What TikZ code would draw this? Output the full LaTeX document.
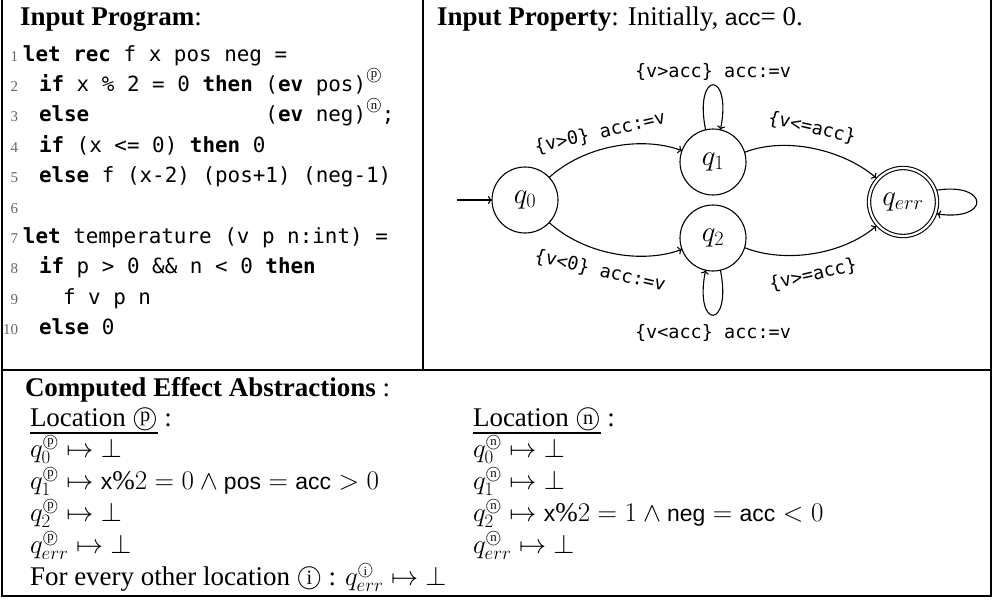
\RequirePackage{fix-cm}
\documentclass[tikz,border=0pt]{standalone}
\usepackage{fontspec}
\usepackage{graphicx}
\setmainfont{Liberation Serif}
\setsansfont{Liberation Sans}[Scale=0.85]
\setmonofont{DejaVu Sans Mono}
\usetikzlibrary{arrows.meta}
\newcommand\circl[1]{{\ooalign{$\vcenter{\hbox{\scalebox{0.92}{$\bigcirc$}}}$\cr\hfil$\vcenter{\hbox{\scalebox{0.75}{#1}}}$\hfil\cr}}}
\newcommand\csupm[1]{\hbox{\fontsize{17}{17}\selectfont\circl{#1}}}
\newcommand\csupc[1]{\raisebox{0.55em}{\fontsize{17}{17}\selectfont\rmfamily\mdseries\circl{#1}}}
\newcommand\codefont{\fontsize{20.9}{22}\selectfont\ttfamily}
\newcommand\lblfont{\fontsize{18.5}{20}\selectfont\ttfamily}
\newcommand\bodyfont{\fontsize{27}{30}\selectfont\rmfamily}
\newcommand\lnfont{\fontsize{15}{17}\selectfont\rmfamily}
\newcommand\statefont{\fontsize{29}{31}\selectfont}
\begin{document}
\begin{tikzpicture}[x=1pt,y=-1pt,
  every node/.style={inner sep=0pt, outer sep=0pt},
  code/.style={anchor=base west, font=\codefont},
  lnum/.style={anchor=base east, font=\lnfont, text=black!60},
  txt/.style={anchor=base west, font=\bodyfont},
  lbl/.style={font=\lblfont},
  stnode/.style={circle, draw, line width=1.1pt, minimum size=66pt, font=\statefont},
  edge/.style={line width=1.1pt, -{To[length=4pt,width=8pt]}},
  frame/.style={line width=2.7pt}]
\useasboundingbox (0,0) rectangle (995,600);
% frame
\draw[frame] (2,0) -- (2,596) -- (991,596) -- (991,0);
\draw[frame] (423,0) -- (423,370);
\draw[frame] (2,370) -- (991,370);
% left title
\node[txt] (tl) at (20,25) {\textbf{Input Program}:};
% code
\foreach \i in {1,...,10} {\node[lnum] (n\i) at (18,{61+30.4*(\i-1)}) {\i};}
\node[code] (c1) at (23,61) {\textbf{let rec} f x pos neg =};
\node[code] (c2) at (39,91.4) {\textbf{if} x \% 2 = 0 \textbf{then}};
\node[code] (c2b) at ([xshift=12.58pt]c2.base east) {(\textbf{ev} pos)\csupc{p}};
\node[code] (c3) at (39,121.8) {\textbf{else}};
\node[code] (c3b) at (c2b.base west |- c3.base) {(\textbf{ev} neg)\csupc{n};};
\node[code] (c4) at (39,152.2) {\textbf{if} (x <= 0) \textbf{then} 0};
\node[code] (c5) at (39,182.6) {\textbf{else} f (x-2) (pos+1) (neg-1)};
\node[code] (c7) at (23,243.4) {\textbf{let} temperature (v p n:int) =};
\node[code] (c8) at (39,273.8) {\textbf{if} p > 0 \&\& n < 0 \textbf{then}};
\node[code] (c9) at (63,304.2) {f v p n};
\node[code] (c10) at (39,334.6) {\textbf{else} 0};
% right title
\node[txt] (tr) at (437,25) {\textbf{Input Property}: Initially, \textsf{acc}= 0.};
% automaton
\node[stnode] (q0) at (525,200) {$q_0$};
\node[stnode] (q1) at (713,162) {$q_1$};
\node[stnode] (q2) at (713,238) {$q_2$};
\node[stnode, double, double distance=2.2pt, minimum size=68pt] (qe) at (903,202) {$q_{err}$};
\coordinate (init) at (457,200);
\draw[edge] (init) -- (q0);
\draw[edge] (q0.43) .. controls +(35,-32) and +(-40,-15) .. (q1.160);
\draw[edge] (q0.-43) .. controls +(35,32) and +(-40,15) .. (q2.200);
\draw[edge, shorten >=2pt] (q1.17) .. controls +(40,-16) and +(-35,-30) .. (qe.138);
\draw[edge, shorten >=2pt] (q2.-17) .. controls +(40,16) and +(-35,30) .. (qe.-138);
\draw[edge] (q1.103) .. controls +(-12,-60) and +(12,-60) .. (q1.77);
\draw[edge] (q2.-77) .. controls +(12,60) and +(-12,60) .. (q2.-103);
\draw[edge, shorten <=2pt, shorten >=2pt] (qe.20) .. controls +(55,-8) and +(55,8) .. (qe.-20);
\node[lbl] (l1) at (713,72) {\{v>acc\} acc:=v};
\node[lbl, rotate=13] (l2) at (600,133) {\{v>0\} acc:=v};
\node[lbl, rotate=-13] (l3) at (812,128) {\{v<=acc\}};
\node[lbl, rotate=-13] (l4) at (600,271) {\{v<0\} acc:=v};
\node[lbl, rotate=13] (l5) at (813,275) {\{v>=acc\}};
\node[lbl] (l6) at (713,333) {\{v<acc\} acc:=v};
% bottom
\node[txt] (comp) at (25,396) {\textbf{Computed Effect Abstractions} :};
\node[txt] (locp) at (30,426) {Location \circl{p}};
\node[txt] (locpc) at (locp.base east) {~:};
\draw[line width=2.2pt] ([yshift=-7pt]locp.base west) -- ([yshift=-7pt]locp.base east);
\node[txt] (p0) at (30,457) {$q_0^{\csupm{p}}\mapsto\bot$};
\node[txt] (p1) at (30,489) {$q_1^{\csupm{p}}\mapsto\mathsf{x}\%2=0\wedge\mathsf{pos}=\mathsf{acc}>0$};
\node[txt] (p2) at (30,521) {$q_2^{\csupm{p}}\mapsto\bot$};
\node[txt] (pe) at (30,553) {$q_{err}^{\csupm{p}}\mapsto\bot$};
\node[txt] (oth) at (30,585) {For every other location \circl{i} : $q_{err}^{\csupm{i}}\mapsto\bot$};
\node[txt] (locn) at (473,426) {Location \circl{n}};
\node[txt] (locnc) at (locn.base east) {~:};
\draw[line width=2.2pt] ([yshift=-7pt]locn.base west) -- ([yshift=-7pt]locn.base east);
\node[txt] (m0) at (473,457) {$q_0^{\csupm{n}}\mapsto\bot$};
\node[txt] (m1) at (473,489) {$q_1^{\csupm{n}}\mapsto\bot$};
\node[txt] (m2) at (473,521) {$q_2^{\csupm{n}}\mapsto\mathsf{x}\%2=1\wedge\mathsf{neg}=\mathsf{acc}<0$};
\node[txt] (me) at (473,553) {$q_{err}^{\csupm{n}}\mapsto\bot$};
\end{tikzpicture}
\end{document}
